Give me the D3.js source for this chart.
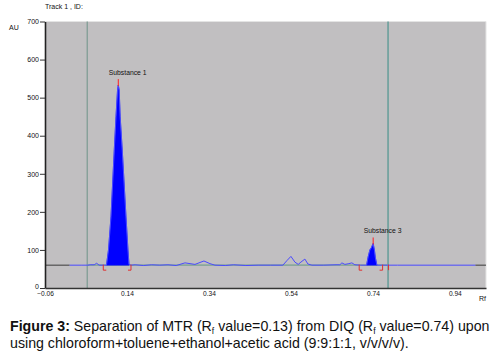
<!DOCTYPE html>
<html>
<head>
<meta charset="utf-8">
<script src="https://cdn.jsdelivr.net/npm/d3@7"></script>
<style>
  html, body { margin: 0; padding: 0; background: #fff; }
  svg { display: block; font-family: "Liberation Sans", Arial, sans-serif; }
</style>
</head>
<body>
<svg id="chart" width="500" height="355"></svg>
<script>
// ---- data ----
const traceRf = [0.000, 0.030, 0.045, 0.050, 0.060, 0.066, 0.072, 0.085, 0.0900, 0.0949, 0.1010, 0.1090, 0.1132, 0.1170, 0.1188, 0.1210, 0.1234, 0.1285, 0.1376, 0.1424, 0.1449, 0.150, 0.160, 0.180, 0.200, 0.220, 0.240, 0.260, 0.2815, 0.3059, 0.3278, 0.3424, 0.3546, 0.380, 0.400, 0.430, 0.460, 0.490, 0.5205, 0.5303, 0.5400, 0.5498, 0.5578, 0.5644, 0.5741, 0.5815, 0.5912, 0.620, 0.650, 0.6595, 0.6644, 0.6717, 0.6815, 0.6888, 0.6961, 0.710, 0.7246, 0.7285, 0.7327, 0.7363, 0.7407, 0.7437, 0.7460, 0.7498, 0.760, 0.800, 0.990];
const traceAu = [60, 60, 60, 61, 61, 65, 60, 60, 60, 100, 187, 362, 450, 520, 533, 520, 450, 362, 187, 100, 62, 60, 61, 59, 61, 60, 61, 59, 66, 62, 71, 64, 60, 59, 61, 59, 60, 60, 60, 72, 83, 68, 62, 68, 76, 63, 60, 60, 61, 61, 66, 62, 64, 66, 61, 60, 60, 82, 100, 106, 117, 100, 80, 60, 60, 60, 60];
const baselineAu = 60;
const peakNames = ["Substance 1", "Substance 3"];
const peakRf = [0.1188, 0.7407];
const peakAu = [533, 117];
const peakStart = [0.0900, 0.7246];
const peakEnd = [0.1449, 0.7498];
const bracketStart = [0.0822, 0.7066];
const bracketEnd = [0.1498, 0.7637];
const frontRf = [0.043, 0.777];
const yTicks = [0, 100, 200, 300, 400, 500, 600, 700];
const xTicks = [-0.06, 0.14, 0.34, 0.54, 0.74, 0.94];

// ---- chart ----
const svg = d3.select("#chart");
const x = d3.scaleLinear().domain([-0.06, 1.016]).range([45, 486]);
const y = d3.scaleLinear().domain([0, 700]).range([288, 21.5]);

// plot background
svg.append("rect").attr("x", x(-0.06)).attr("y", y(700))
  .attr("width", x(1.016) - x(-0.06)).attr("height", y(0) - y(700))
  .attr("fill", "#c1bfc1");
svg.append("line").attr("x1", x(-0.06)).attr("x2", x(1.016)).attr("y1", y(700)).attr("y2", y(700))
  .attr("stroke", "#e4e4e4").attr("stroke-width", 1);
svg.append("line").attr("x1", x(1.016)).attr("x2", x(1.016)).attr("y1", y(700)).attr("y2", y(0))
  .attr("stroke", "#e4e4e4").attr("stroke-width", 1);

// solvent front / start lines
svg.selectAll(".front").data(frontRf).join("line")
  .attr("x1", d => x(d)).attr("x2", d => x(d))
  .attr("y1", y(700)).attr("y2", y(0))
  .attr("stroke", (d, i) => i === 0 ? "#7c9a92" : "#4f9590").attr("stroke-width", 1.2);

// integration baseline
svg.append("line").attr("x1", x(frontRf[0])).attr("x2", x(frontRf[1]))
  .attr("y1", y(baselineAu)).attr("y2", y(baselineAu))
  .attr("stroke", "#8aa89c").attr("stroke-width", 1.6);

// dark end segments of baseline
svg.append("line").attr("x1", x(-0.06)).attr("x2", x(traceRf[0]))
  .attr("y1", y(baselineAu)).attr("y2", y(baselineAu))
  .attr("stroke", "#3a3a3a").attr("stroke-width", 1);
svg.append("line").attr("x1", x(traceRf[traceRf.length - 1])).attr("x2", x(1.016))
  .attr("y1", y(baselineAu)).attr("y2", y(baselineAu))
  .attr("stroke", "#3a3a3a").attr("stroke-width", 1);

const pts = traceRf.map((r, i) => [r, traceAu[i]]);

// filled peaks
const area = d3.area().x(d => x(d[0])).y0(y(baselineAu)).y1(d => y(d[1]));
peakStart.forEach((s, i) => {
  const seg = pts.filter(p => p[0] >= s && p[0] <= peakEnd[i]);
  svg.append("path").datum(seg).attr("d", area).attr("fill", "#0000ff")
    .attr("stroke", "#1010ff").attr("stroke-width", 0.6);
});

// trace
svg.append("path").datum(pts)
  .attr("d", d3.line().x(d => x(d[0])).y(d => y(d[1])))
  .attr("fill", "none").attr("stroke", "#4a4aff").attr("stroke-width", 1);

// brackets
const by0 = y(baselineAu) - 0.5, by1 = y(baselineAu) + 5;
bracketStart.forEach((s, i) => {
  const e = bracketEnd[i];
  svg.append("path")
    .attr("d", `M${x(s) + 3},${by1}H${x(s)}V${by0}`)
    .attr("fill", "none").attr("stroke", "#e03030").attr("stroke-width", 1);
  svg.append("path")
    .attr("d", `M${x(e) - 3},${by1}H${x(e)}V${by0}`)
    .attr("fill", "none").attr("stroke", "#e03030").attr("stroke-width", 1);
});
svg.append("line").attr("x1", x(frontRf[1]) + 0.5).attr("x2", x(frontRf[1]) + 0.5)
  .attr("y1", by0).attr("y2", by1).attr("stroke", "#e03030").attr("stroke-width", 1);

// peak markers & labels
peakRf.forEach((r, i) => {
  svg.append("line").attr("x1", x(r)).attr("x2", x(r))
    .attr("y1", y(peakAu[i]) - 6).attr("y2", y(peakAu[i]) + 1)
    .attr("stroke", "#ff2020").attr("stroke-width", 1);
  svg.append("text").attr("x", x(r) - 9.5).attr("y", y(peakAu[i]) - 10)
    .attr("font-size", 6.8).attr("fill", "#111").text(peakNames[i]);
});

// axes
const yAxis = d3.axisLeft(y).tickValues(yTicks).tickSize(5).tickSizeOuter(0).tickPadding(1);
const gy = svg.append("g").attr("transform", `translate(${x(-0.06)},0)`).call(yAxis);
gy.select(".domain").attr("stroke", "#222").attr("stroke-width", 1.6);
gy.selectAll(".tick line").attr("stroke", "#333");
gy.selectAll("text").attr("font-size", 7).attr("font-family", "Liberation Sans, Arial, sans-serif").attr("fill", "#111");
gy.selectAll(".tick text").filter(d => d === 0).attr("dy", "0.1em");

const xAxis = d3.axisBottom(x).tickValues(xTicks).tickFormat(d3.format(".2f")).tickSize(0).tickSizeOuter(0).tickPadding(3.5);
const gx = svg.append("g").attr("transform", `translate(0,${y(0)})`).call(xAxis);
gx.select(".domain").attr("stroke", "#333").attr("stroke-width", 1.6);
gx.selectAll("text").attr("font-size", 6.6).attr("font-family", "Liberation Sans, Arial, sans-serif").attr("fill", "#111");

// titles
svg.append("text").attr("x", 45).attr("y", 9).attr("font-size", 7).attr("fill", "#111").text("Track 1 , ID:");
svg.append("text").attr("x", 9).attr("y", 30).attr("font-size", 7).attr("fill", "#111").text("AU");
svg.append("text").attr("x", 479).attr("y", 301).attr("font-size", 7).attr("fill", "#111").text("Rf");

// caption
const cap = svg.append("text").attr("x", 10).attr("y", 330.5).attr("font-size", 14.2).attr("fill", "#111");
cap.append("tspan").attr("font-weight", "bold").text("Figure 3:");
cap.append("tspan").text(" Separation of MTR (R");
cap.append("tspan").attr("font-size", 8.5).attr("dy", 3).text("f");
cap.append("tspan").attr("dy", -3).text(" value=0.13) from DIQ (R");
cap.append("tspan").attr("font-size", 8.5).attr("dy", 3).text("f");
cap.append("tspan").attr("dy", -3).text(" value=0.74) upon");
svg.append("text").attr("x", 10).attr("y", 347.5).attr("font-size", 14.2).attr("fill", "#111")
  .text("using chloroform+toluene+ethanol+acetic acid (9:9:1:1, v/v/v/v).");
</script>
</body>
</html>
